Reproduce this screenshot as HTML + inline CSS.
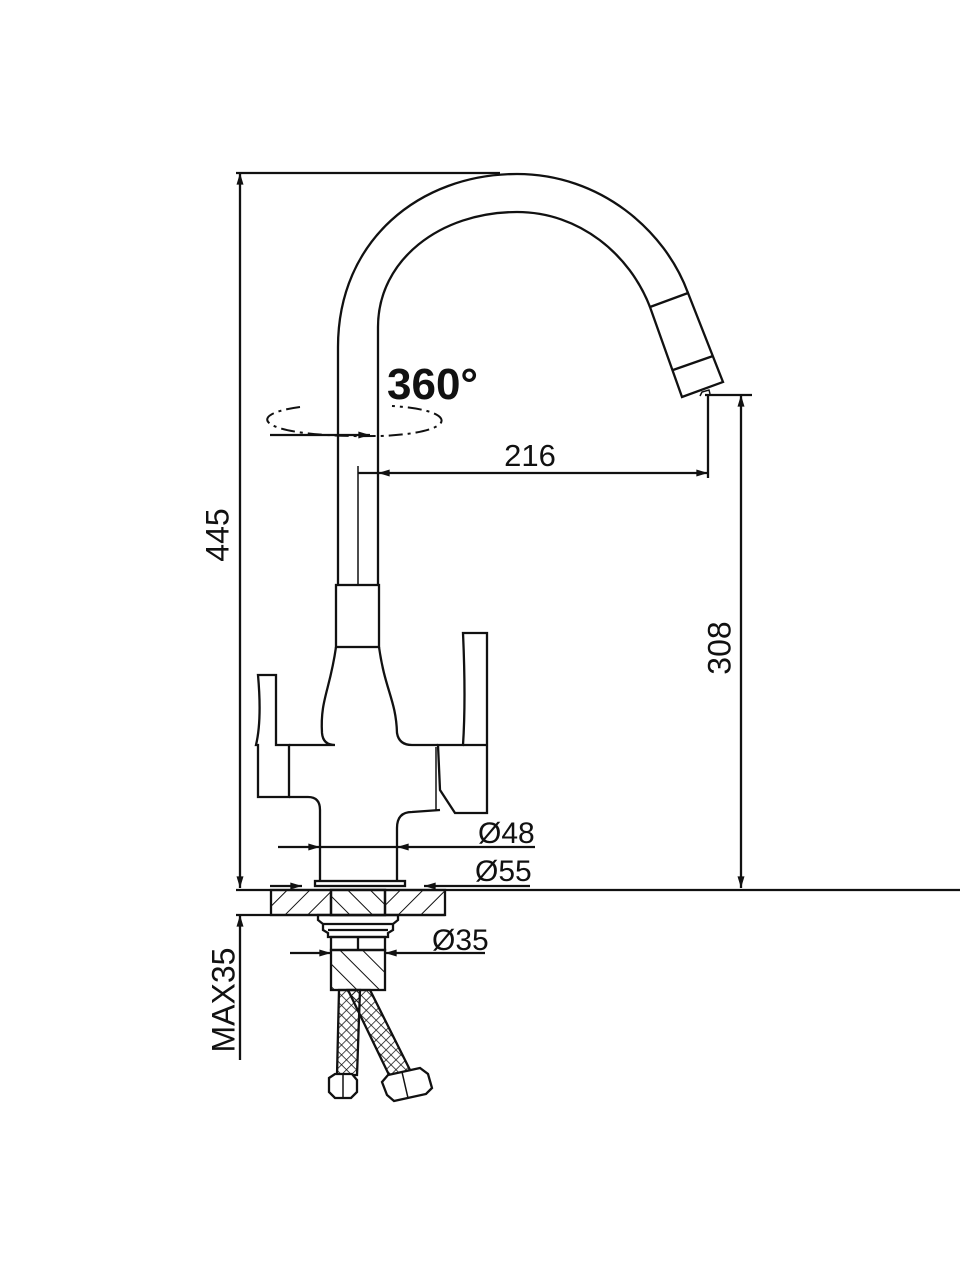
<!DOCTYPE html>
<html><head><meta charset="utf-8"><style>
html,body{margin:0;padding:0;background:#fff;}
svg{display:block;}
text{font-family:"Liberation Sans",Arial,sans-serif;fill:#111;}
</style></head><body>
<svg width="960" height="1280" viewBox="0 0 960 1280" xmlns="http://www.w3.org/2000/svg">
<defs>
<pattern id="h1" patternUnits="userSpaceOnUse" width="16" height="16" patternTransform="rotate(45)"><line x1="0" y1="0" x2="0" y2="16" stroke="#111" stroke-width="2"/></pattern>
<pattern id="h2" patternUnits="userSpaceOnUse" width="16" height="16" patternTransform="rotate(-45)"><line x1="0" y1="0" x2="0" y2="16" stroke="#111" stroke-width="2"/></pattern>
<pattern id="x1" patternUnits="userSpaceOnUse" width="7" height="7" patternTransform="rotate(45)"><path d="M0 0V7M0 0H7" stroke="#111" stroke-width="1.5"/></pattern>
<marker id="a" viewBox="0 0 10 6" refX="10" refY="3" markerWidth="14" markerHeight="7" markerUnits="userSpaceOnUse" orient="auto-start-reverse"><path d="M0 0L10 3L0 6Z" fill="#111"/></marker>
</defs>
<g fill="none" stroke="#111" stroke-width="2.3">
<line x1="236" y1="173" x2="500" y2="173"/>
<line x1="240" y1="173" x2="240" y2="888" marker-start="url(#a)" marker-end="url(#a)"/>
<path d="M338 585 L338 347 C338 240 420 174 517 174 C600 174 665 230 688 293"/>
<path d="M378 585 L378 327 C378 260 440 212 517 212 C580 212 630 255 650 307"/>
<path d="M650 307 L688 293 L723 382 L682 397 Z"/>
<line x1="673" y1="370" x2="713" y2="356"/>
<path d="M700 396 L702 392 L709 390 L710 394" stroke-width="1.5"/>
<line x1="358" y1="466" x2="358" y2="585" stroke-width="1.5"/>
<line x1="378" y1="473" x2="708" y2="473" marker-start="url(#a)" marker-end="url(#a)"/>
<line x1="358" y1="473" x2="378" y2="473"/>
<line x1="708" y1="396" x2="708" y2="478"/>
<line x1="705" y1="395" x2="752" y2="395"/>
<line x1="741" y1="395" x2="741" y2="888" marker-start="url(#a)" marker-end="url(#a)"/>
<path d="M300 407 C240 415 260 438 380 436 C460 433 460 410 392 406" stroke-dasharray="14 5 3 5" stroke-width="2"/>
<line x1="270" y1="435" x2="370" y2="435" marker-end="url(#a)"/>
<rect x="336" y="585" width="43" height="62"/>
<path d="M336 647 C330 690 320 700 322 733 Q323 745 335 745 L289 745"/>
<path d="M379 647 C385 690 396 700 397 733 Q399 745 412 745 L438 745"/>
<path d="M258 675 L276 675 L276 745 L289 745 L289 797 L258 797 L258 745 L256 745 Q262 720 258 675 Z"/>
<path d="M289 797 L308 797 Q320 797 320 810 L320 882"/>
<path d="M463 633 L487 633 L487 813 L455 813 L440 790 L438 745 L463 745 Q466 700 463 633 Z"/>
<line x1="463" y1="745" x2="487" y2="745"/>
<line x1="436" y1="747" x2="436" y2="810" stroke-width="1.5"/>
<path d="M440 810 L412 812 Q397 812 397 828 L397 882"/>
<line x1="278" y1="847" x2="320" y2="847" marker-end="url(#a)"/>
<line x1="320" y1="847" x2="397" y2="847"/>
<line x1="535" y1="847" x2="397" y2="847" marker-end="url(#a)"/>
<rect x="315" y="881" width="90" height="5"/>
<line x1="270" y1="886" x2="302" y2="886" marker-end="url(#a)"/>
<line x1="530" y1="886" x2="424" y2="886" marker-end="url(#a)"/>
<line x1="236" y1="890" x2="960" y2="890"/>
<line x1="236" y1="915" x2="445" y2="915"/>
<rect x="271" y="890" width="174" height="25" fill="url(#h1)"/>
<rect x="331" y="890" width="54" height="25" fill="#fff"/>
<rect x="331" y="890" width="54" height="25" fill="url(#h2)"/>
<path d="M318 915 L398 915 L398 920 L393 924 L393 930 L388 933 L388 937 L328 937 L328 933 L323 930 L323 924 L318 920 Z"/>
<line x1="323" y1="924" x2="393" y2="924"/><line x1="328" y1="930" x2="388" y2="930"/>
<rect x="331" y="937" width="54" height="13"/>
<line x1="358" y1="937" x2="358" y2="950"/>
<rect x="331" y="950" width="54" height="40" fill="url(#h2)"/>
<line x1="290" y1="953" x2="331" y2="953" marker-end="url(#a)"/>
<line x1="485" y1="953" x2="385" y2="953" marker-end="url(#a)"/>
<line x1="240" y1="1060" x2="240" y2="915" marker-end="url(#a)"/>
<path d="M339 990 L360 990 L357 1075 L337 1075 Z" fill="url(#x1)"/>
<path d="M348 990 L370 990 L410 1070 L390 1077 Z" fill="url(#x1)"/>
<path d="M329 1078 L335 1074 L352 1074 L357 1080 L357 1092 L351 1098 L335 1098 L329 1092 Z" fill="#fff"/>
<line x1="343" y1="1074" x2="343" y2="1098" stroke-width="1.5"/>
<path d="M382 1082 L388 1075 L420 1068 L428 1074 L432 1088 L426 1094 L394 1101 L387 1095 Z" fill="#fff"/>
<line x1="402" y1="1072" x2="408" y2="1098" stroke-width="1.5"/>
</g>
<g>
<text x="220" y="535" font-size="32" text-anchor="middle" transform="rotate(-90 220 535)" dominant-baseline="middle">445</text>
<text x="722" y="648" font-size="32" text-anchor="middle" transform="rotate(-90 722 648)" dominant-baseline="middle">308</text>
<text x="530" y="466" font-size="31" text-anchor="middle">216</text>
<text x="387" y="399" font-size="44" font-weight="bold">360°</text>
<text x="478" y="843" font-size="30">Ø48</text>
<text x="475" y="881" font-size="30">Ø55</text>
<text x="432" y="950" font-size="30">Ø35</text>
<text x="226" y="1000" font-size="32" text-anchor="middle" transform="rotate(-90 226 1000)" dominant-baseline="middle">MAX35</text>
</g>
</svg>
</body></html>
